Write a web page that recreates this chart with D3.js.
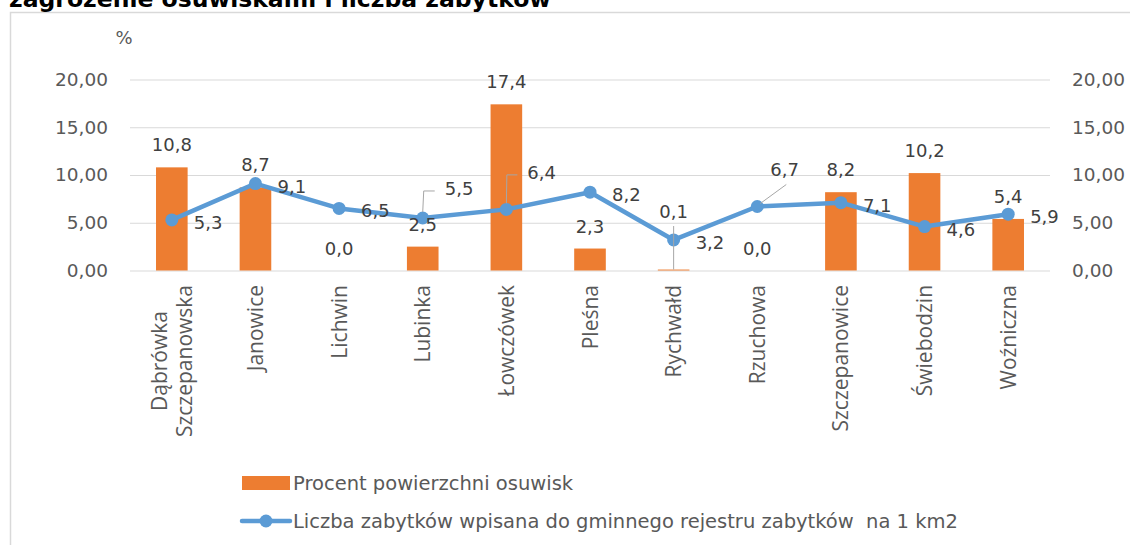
<!DOCTYPE html>
<html>
<head>
<meta charset="utf-8">
<script src="https://cdn.jsdelivr.net/npm/d3@7"></script>
<style>
  html, body { margin: 0; padding: 0; background: #fff; }
  svg { display: block; }
  text { white-space: pre; }
</style>
</head>
<body>
<svg id="chart" width="1130" height="545"></svg>
<script>
// Gminy (municipality areas)
const categories = [
  "Dąbrówka Szczepanowska", "Janowice", "Lichwin", "Lubinka", "Łowczówek",
  "Pleśna", "Rychwałd", "Rzuchowa", "Szczepanowice", "Świebodzin", "Woźniczna"
];
// Procent powierzchni osuwisk
const landslidePct = [10.8, 8.7, 0.0, 2.5, 17.4, 2.3, 0.1, 0.0, 8.2, 10.2, 5.4];
// Liczba zabytków na 1 km2
const monumentsPerKm2 = [5.3, 9.1, 6.5, 5.5, 6.4, 8.2, 3.2, 6.7, 7.1, 4.6, 5.9];
// Axis ticks
const yTicks = [0, 5, 10, 15, 20];

const titleText = "zagrożenie osuwiskami i liczba zabytków";
const unitText = "%";
const legendBars = "Procent powierzchni osuwisk";
const legendLine = "Liczba zabytków wpisana do gminnego rejestru zabytków  na 1 km2";

const ORANGE = "#ED7D31";
const BLUE = "#5B9BD5";
const AXIS_TXT = "#595959";
const LABEL_TXT = "#404040";
const GRID = "#d9d9d9";
const FONT = "'DejaVu Sans', Verdana, sans-serif";
const CAT_FONT = "'Open Sans', sans-serif";

const svg = d3.select("#chart");

// outer chart frame
svg.append("rect")
  .attr("x", 10.5).attr("y", 12.5)
  .attr("width", 1140).attr("height", 560)
  .attr("fill", "#fff").attr("stroke", GRID).attr("stroke-width", 1.5);

// title (partly above the top edge)
svg.append("text")
  .attr("x", 9).attr("y", 7)
  .attr("font-family", FONT).attr("font-weight", "bold")
  .attr("font-size", 23.5).attr("fill", "#000")
  .text(titleText);

const plotLeft = 130, plotRight = 1050;
const x = d3.scaleBand().domain(categories).range([plotLeft, plotRight]).padding(0);
const y = d3.scaleLinear().domain([0, 20]).range([270.5, 79.5]);
const cx = d => x(d) + x.bandwidth() / 2;
const fmtAxis = d => d3.format(".2f")(d).replace(".", ",");
const fmtVal = d => d3.format(".1f")(d).replace(".", ",");

// gridlines
const grid = svg.append("g")
  .attr("transform", `translate(${plotLeft},0)`)
  .call(d3.axisLeft(y).tickValues(yTicks).tickSize(-(plotRight - plotLeft)).tickFormat(""));
grid.select(".domain").remove();
grid.selectAll("line").attr("stroke", GRID).attr("stroke-width", 1.2);

// left axis labels
const yl = svg.append("g")
  .attr("transform", "translate(108,0)")
  .call(d3.axisLeft(y).tickValues(yTicks).tickSize(0).tickPadding(0).tickFormat(fmtAxis));
yl.select(".domain").remove();
yl.selectAll("text").attr("font-family", FONT).attr("font-size", 18.5).attr("fill", AXIS_TXT);

// right axis labels
const yr = svg.append("g")
  .attr("transform", "translate(1072,0)")
  .call(d3.axisRight(y).tickValues(yTicks).tickSize(0).tickPadding(0).tickFormat(fmtAxis));
yr.select(".domain").remove();
yr.selectAll("text").attr("font-family", FONT).attr("font-size", 18.5).attr("fill", AXIS_TXT);

// unit
svg.append("text")
  .attr("x", 124).attr("y", 44).attr("text-anchor", "middle")
  .attr("font-family", FONT).attr("font-size", 18).attr("fill", AXIS_TXT)
  .text(unitText);

// category labels, rotated
const catG = svg.append("g");
categories.forEach(c => {
  const words = c.split(" ");
  const lines = words.length > 1 ? words : [c];
  const lh = 25;
  const t = catG.append("text")
    .attr("font-family", CAT_FONT).attr("font-size", 21).attr("fill", AXIS_TXT)
    .attr("text-anchor", "middle");
  lines.forEach((ln, i) => {
    t.append("tspan").attr("x", 0)
      .attr("y", 7.5 + (i - (lines.length - 1) / 2) * lh)
      .text(ln);
  });
  let maxLen = 0;
  t.selectAll("tspan").each(function () { maxLen = Math.max(maxLen, this.getComputedTextLength()); });
  t.attr("transform", `translate(${cx(c)},${285 + maxLen / 2}) rotate(-90)`);
});

// bars
const bw = x.bandwidth() * 0.378;
svg.append("g").selectAll("rect")
  .data(categories)
  .join("rect")
  .attr("x", (d) => cx(d) - bw / 2)
  .attr("y", (d, i) => y(landslidePct[i]))
  .attr("width", bw)
  .attr("height", (d, i) => y(0) - y(landslidePct[i]))
  .attr("fill", ORANGE);

// line series
const pts = categories.map((c, i) => [cx(c), y(monumentsPerKm2[i])]);
svg.append("path")
  .attr("d", d3.line()(pts))
  .attr("fill", "none").attr("stroke", BLUE)
  .attr("stroke-width", 4.5).attr("stroke-linejoin", "round").attr("stroke-linecap", "round");
svg.append("g").selectAll("circle")
  .data(pts)
  .join("circle")
  .attr("cx", d => d[0]).attr("cy", d => d[1]).attr("r", 6.5)
  .attr("fill", BLUE);

// data labels: default placements plus a few moved ones with leader lines
const barLabelShift = { "Rychwałd": -51.5 };
const lineLabelShift = {
  "Lubinka": { dx: 22, dy: -23, leader: [[0, -6], [1, -27], [12, -27]] },
  "Łowczówek": { dx: 21, dy: -30.5, leader: [[0, -6], [0.5, -34.5], [11, -34.5]] },
  "Rzuchowa": { dx: 13, dy: -30.6, leader: [[3, -3], [29, -22]] }
};

const labG = svg.append("g")
  .attr("font-family", FONT).attr("font-size", 18).attr("fill", LABEL_TXT);
const leaderG = svg.append("g").attr("fill", "none").attr("stroke", "#a6a6a6").attr("stroke-width", 1);

categories.forEach((c, i) => {
  const bx = cx(c), by = y(landslidePct[i]);
  const shift = barLabelShift[c];
  const baseY = shift !== undefined ? by + shift : by - 16;
  labG.append("text").attr("x", bx).attr("y", baseY).attr("text-anchor", "middle")
    .text(fmtVal(landslidePct[i]));
  if (shift !== undefined) {
    leaderG.append("path").attr("d", d3.line()([[bx, baseY + 8], [bx, by]]));
  }

  const [px, py] = pts[i];
  const o = lineLabelShift[c];
  if (o) {
    labG.append("text").attr("x", px + o.dx).attr("y", py + o.dy).text(fmtVal(monumentsPerKm2[i]));
    leaderG.append("path").attr("d", d3.line()(o.leader.map(p => [px + p[0], py + p[1]])));
  } else {
    labG.append("text").attr("x", px + 22).attr("y", py + 9).text(fmtVal(monumentsPerKm2[i]));
  }
});

// legend
const lg = svg.append("g");
lg.append("rect").attr("x", 242).attr("y", 476).attr("width", 48).attr("height", 14).attr("fill", ORANGE);
lg.append("text").attr("x", 293).attr("y", 490)
  .attr("font-family", FONT).attr("font-size", 19.5).attr("fill", AXIS_TXT).text(legendBars);
lg.append("line").attr("x1", 242).attr("x2", 290).attr("y1", 521).attr("y2", 521)
  .attr("stroke", BLUE).attr("stroke-width", 4.5).attr("stroke-linecap", "round");
lg.append("circle").attr("cx", 266).attr("cy", 521).attr("r", 6.5).attr("fill", BLUE);
lg.append("text").attr("x", 293).attr("y", 528)
  .attr("font-family", FONT).attr("font-size", 19.5).attr("fill", AXIS_TXT).text(legendLine);
</script>
</body>
</html>
